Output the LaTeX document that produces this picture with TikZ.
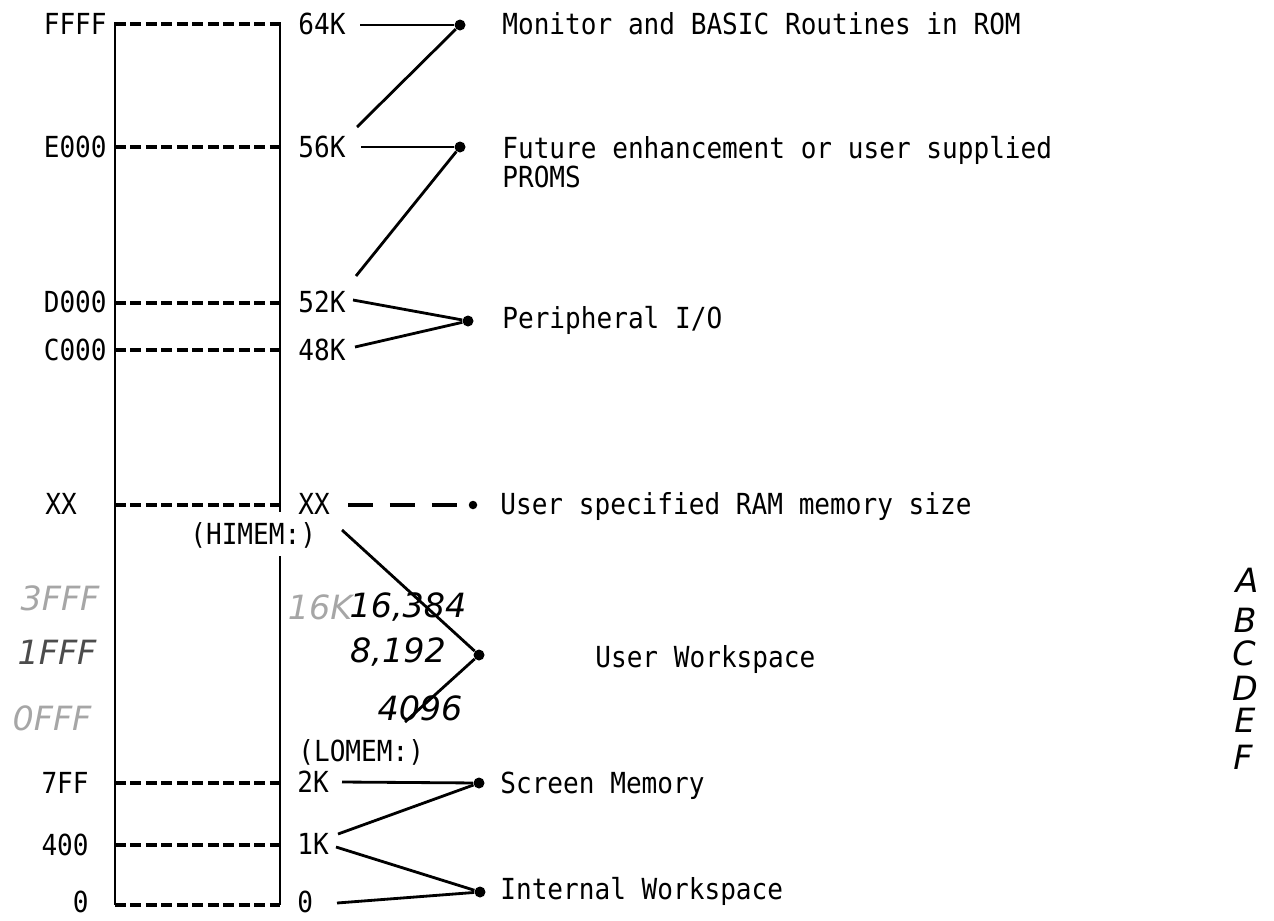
\documentclass[tikz,border=0pt]{standalone}
\usepackage{fontspec}
\setmonofont{DejaVu Sans Mono}[FakeStretch=0.9]
\newfontfamily\handfont{DejaVu Sans}
\usepackage{xcolor}

\tikzset{
	typed/.style={font=\ttfamily\fontsize{16.5}{19}\selectfont, inner sep=0pt},
	addr/.style={typed, anchor=base east},
	size/.style={typed, anchor=base west},
	desc/.style={typed, anchor=base west},
	hand/.style={font=\handfont\itshape\fontsize{19}{22}\selectfont, inner sep=0pt},
	faint/.style={hand, text=black!35},
	dot/.style={circle, fill, inner sep=0pt, minimum size=0.22cm},
	row/.style={line width=2pt, dash pattern=on 0.22cm off 0.09cm},
	wire/.style={line width=1.6pt},
}

\begin{document}
\begin{tikzpicture}[x=0.02cm, y=-0.02cm]
	\useasboundingbox (0,0) rectangle (1274,920);

	% the memory block
	\coordinate (tl) at (115,22);
	\coordinate (bl) at (115,905);
	\coordinate (tr) at (280,22);
	\coordinate (hr) at (280,512);
	\coordinate (lr) at (280,556);
	\coordinate (br) at (280,905);
	\draw[line width=1.5pt] (tl) -- (bl);
	\draw[line width=1.5pt] (tr) -- (hr);
	\draw[line width=1.5pt] (lr) -- (br);

	\draw[row] (115,24) -- (280,24);
	\draw[row] (115,147) -- (280,147);
	\draw[row] (115,303) -- (280,303);
	\draw[row] (115,350) -- (280,350);
	\draw[row] (115,505) -- (280,505);
	\draw[row] (115,783) -- (280,783);
	\draw[row] (115,845) -- (280,845);
	\draw[row] (115,905) -- (280,905);

	% addresses on the left
	\node[addr] (aFFFF) at (107,34) {FFFF};
	\node[addr] (aE000) at (107,157) {E000};
	\node[addr] (aD000) at (107,312) {D000};
	\node[addr] (aC000) at (107,360) {C000};
	\node[typed, anchor=base west] (aXX) at (45,514) {XX};
	\node[addr] (a7FF) at (89,793) {7FF};
	\node[addr] (a400) at (89,855) {400};
	\node[addr] (a0) at (89,912) {0};

	% sizes on the right
	\node[size] (k64) at (298,34) {64K};
	\node[size] (k56) at (298,157) {56K};
	\node[size] (k52) at (298,312) {52K};
	\node[size] (k48) at (298,360) {48K};
	\node[size] (kXX) at (298,514) {XX};
	\node[size] (himem) at (190,544) {(HIMEM:)};
	\node[size] (lomem) at (298,761) {(LOMEM:)};
	\node[size] (k2) at (297,792) {2K};
	\node[size] (k1) at (297,854) {1K};
	\node[size] (k0) at (297,912) {0};

	% what each range holds
	\node[dot] (dROM) at (460,25) {};
	\node[dot] (dPROM) at (460,147) {};
	\node[dot] (dIO) at (468,321) {};
	\node[dot, minimum size=0.17cm] (dRAM) at (473,505) {};
	\node[dot] (dUser) at (479,655) {};
	\node[dot] (dScreen) at (479,783) {};
	\node[dot] (dInt) at (480,892) {};

	\node[desc] (rom) at (502,34) {Monitor and BASIC Routines in ROM};
	\node[desc] (prom) at (502,158) {Future enhancement or user supplied};
	\node[desc] (prom2) at (502,187) {PROMS};
	\node[desc] (io) at (502,328) {Peripheral I/O};
	\node[desc] (ram) at (500,514) {User specified RAM memory size};
	\node[desc] (user) at (595,667) {User Workspace};
	\node[desc] (screen) at (500,793) {Screen Memory};
	\node[desc] (int) at (500,899) {Internal Workspace};

	% free ends of the lines
	\coordinate (c64) at (360,25);
	\coordinate (cE) at (357,127);
	\coordinate (c56) at (361,147);
	\coordinate (cD) at (356,276);
	\coordinate (c52) at (353,300);
	\coordinate (c48) at (355,347);
	\coordinate (cXX) at (348,505);
	\coordinate (cHI) at (342,530);
	\coordinate (cLO) at (405,722);
	\coordinate (c2) at (342,782);
	\coordinate (c1a) at (338,834);
	\coordinate (c1b) at (336,847);
	\coordinate (c0) at (337,903);

	% Draw the lines to the dots
	\draw[wire] (c64) -- (dROM);
	\draw[wire] (cE) -- (dROM);
	\draw[wire] (c56) -- (dPROM);
	\draw[wire] (cD) -- (dPROM);
	\draw[wire] (c52) -- (dIO);
	\draw[wire] (c48) -- (dIO);
	\draw[wire, line width=2pt, dash pattern=on 0.5cm off 0.34cm] (cXX) -- (dRAM);
	\draw[wire] (cHI) -- (dUser);
	\draw[wire] (cLO) -- (dUser);
	\draw[wire] (c2) -- (dScreen);
	\draw[wire] (c1a) -- (dScreen);
	\draw[wire] (c1b) -- (dInt);
	\draw[wire] (c0) -- (dInt);

	% pencil notes
	\node[hand] (n16384) at (408,607) {16,384};
	\node[hand] (n8192) at (398,652) {8,192};
	\node[hand] (n4096) at (420,708) {4096};
	\node[faint] (n16K) at (320,607) {16K};
	\node[faint] (n3FFF) at (60,598) {3FFF};
	\node[faint, text=black!70] (n1FFF) at (57,652) {1FFF};
	\node[faint] (n0FFF) at (52,718) {0FFF};

	\node[hand] (lA) at (1247,580) {A};
	\node[hand] (lB) at (1245,620) {B};
	\node[hand] (lC) at (1244,653) {C};
	\node[hand] (lD) at (1245,688) {D};
	\node[hand] (lE) at (1245,720) {E};
	\node[hand] (lF) at (1243,757) {F};
\end{tikzpicture}
\end{document}
